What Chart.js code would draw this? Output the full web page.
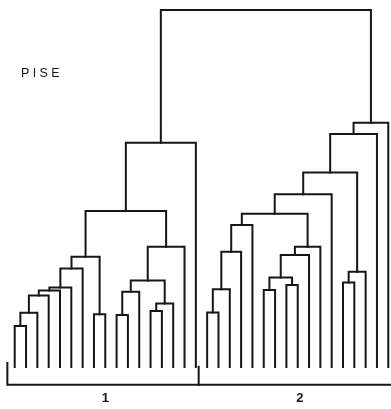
<!DOCTYPE html>
<html>
<head>
<meta charset="utf-8">
<script src="https://cdn.jsdelivr.net/npm/chart.js@4/dist/chart.umd.min.js"></script>
<style>
  html, body { margin: 0; padding: 0; background: #fff; }
  #wrap { width: 391px; height: 409px; }
</style>
</head>
<body>
<div id="wrap"><canvas id="dendro"></canvas></div>
<script>
// 34 leaves, numbered left to right (0..33)
const leafCount = 34;

// merges: [left child, right child, height]; nodes 34.. are created in order
const mergeLeft = [0, 34, 35, 36, 37, 38, 7, 39, 9, 42, 12, 44, 43, 46, 41, 48,
                   17, 50, 51, 52, 22, 24, 54, 56, 57, 53, 59, 29, 61, 60, 63, 64, 49];
const mergeRight = [1, 2, 3, 4, 5, 6, 8, 40, 10, 11, 13, 14, 45, 15, 47, 16,
                    18, 19, 20, 21, 23, 25, 55, 26, 27, 58, 28, 30, 31, 62, 32, 33, 65];
const mergeHeight = [11.5, 15.2, 20.0, 21.4, 22.3, 27.6, 14.8, 30.9, 14.6, 21.1, 15.7, 17.8, 24.2, 33.7, 43.7, 62.8,
                     15.3, 21.8, 32.3, 39.8, 21.6, 23.0, 25.1, 31.4, 33.7, 42.9, 48.4, 23.7, 26.7, 54.5, 65.3, 68.4, 100.0];

// the two groups under the bracket
const groupLabels = ["1", "2"];
const groupFirst = [0, 17];
const groupLast = [16, 33];

const title = "PISE";
const ink = "#161616";

// node positions from the merge list
const nodeX = [];
const nodeH = [];
for (let i = 0; i < leafCount; i++) { nodeX.push(i); nodeH.push(0); }
const linkSets = [];
mergeLeft.forEach((a, k) => {
    const b = mergeRight[k];
    const h = mergeHeight[k];
    linkSets.push({
        data: [
            { x: nodeX[a], y: nodeH[a] },
            { x: nodeX[a], y: h },
            { x: nodeX[b], y: h },
            { x: nodeX[b], y: nodeH[b] },
        ],
    });
    nodeX.push((nodeX[a] + nodeX[b]) / 2);
    nodeH.push(h);
});

// bracket below the leaves
const bracketY = -5.0;
const bracketTop = 1.1;
const bracketLeft = groupFirst[0] - 0.65;
const bracketMid = (groupLast[0] + groupFirst[1]) / 2 - 0.25;
const bracketRight = groupLast[1] + 1;
linkSets.push({ data: [
    { x: bracketLeft, y: bracketTop }, { x: bracketLeft, y: bracketY }, { x: bracketRight, y: bracketY },
] });
linkSets.push({ data: [ { x: bracketMid, y: 0.1 }, { x: bracketMid, y: bracketY } ] });

const datasets = linkSets.map((s) => ({
    data: s.data,
    showLine: true,
    borderColor: ink,
    borderWidth: 2,
    borderCapStyle: "square",
    borderJoinStyle: "miter",
    pointRadius: 0,
    tension: 0,
}));

// texts: title and group numbers
const textPlugin = {
    id: "texts",
    afterDraw(chart) {
        const ctx = chart.ctx;
        const xs = chart.scales.x;
        const ys = chart.scales.y;
        ctx.save();
        ctx.fillStyle = ink;
        ctx.textBaseline = "middle";
        ctx.textAlign = "left";
        ctx.font = "12.5px 'Liberation Sans', Arial, sans-serif";
        ctx.letterSpacing = "3.4px";
        ctx.fillText(title, 21, 74);
        ctx.letterSpacing = "0px";
        ctx.textAlign = "center";
        ctx.font = "bold 13px 'Liberation Sans', Arial, sans-serif";
        groupLabels.forEach((lab, i) => {
            const cx = xs.getPixelForValue((groupFirst[i] + groupLast[i]) / 2 + 0.2 * i);
            ctx.fillText(lab, cx, ys.getPixelForValue(bracketY) + 14);
        });
        ctx.restore();
    },
};

new Chart(document.getElementById("dendro"), {
    type: "scatter",
    data: { datasets: datasets },
    options: {
        responsive: true,
        maintainAspectRatio: false,
        animation: false,
        layout: { padding: 0 },
        plugins: { legend: { display: false }, tooltip: { enabled: false } },
        scales: {
            x: { type: "linear", display: false, min: -1.3, max: 33.24 },
            y: { type: "linear", display: false, min: -11.76, max: 102.8 },
        },
    },
    plugins: [textPlugin],
});
</script>
</body>
</html>
